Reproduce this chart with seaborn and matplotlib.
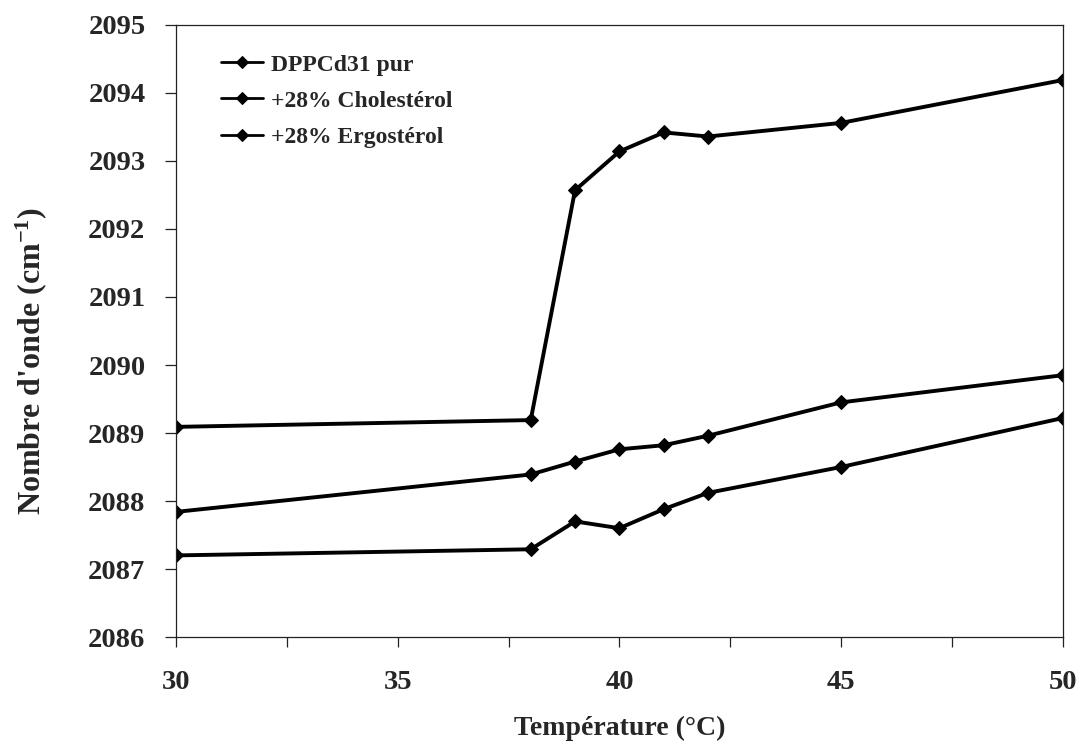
import matplotlib
matplotlib.use("Agg")
import matplotlib.pyplot as plt
from matplotlib.ticker import MultipleLocator
import seaborn as sns
import pandas as pd

# Temperatures (°C) and CD2 stretching wavenumbers (cm-1)
temperature = [30, 38, 39, 40, 41, 42, 45, 50]
dppc_pur = [2089.09, 2089.19, 2092.57, 2093.14, 2093.42, 2093.36, 2093.56, 2094.19]
cholesterol = [2087.84, 2088.39, 2088.58, 2088.76, 2088.82, 2088.96, 2089.45, 2089.85]
ergosterol = [2087.20, 2087.29, 2087.70, 2087.60, 2087.88, 2088.12, 2088.50, 2089.22]
series_names = ["DPPCd31 pur", "+28% Cholestérol", "+28% Ergostérol"]

x_ticks = [30, 35, 40, 45, 50]
y_ticks = [2086, 2087, 2088, 2089, 2090, 2091, 2092, 2093, 2094, 2095]

frames = []
for name, values in zip(series_names, [dppc_pur, cholesterol, ergosterol]):
    frames.append(pd.DataFrame({"Température": temperature,
                                "Nombre d'onde": values,
                                "Série": name}))
df = pd.concat(frames, ignore_index=True)

sns.set_theme(style="white")
plt.rcParams["font.family"] = ["Liberation Serif", "DejaVu Serif"]
plt.rcParams["font.weight"] = "bold"
plt.rcParams["mathtext.fontset"] = "custom"
plt.rcParams["mathtext.rm"] = "Liberation Serif:bold"
plt.rcParams["mathtext.default"] = "rm"

fig = plt.figure(figsize=(10.8, 7.46), dpi=100)
ax = fig.add_axes([0.163, 0.1461, 0.821, 0.8204])

sns.lineplot(data=df, x="Température", y="Nombre d'onde", hue="Série",
             hue_order=series_names, palette=["black"] * 3,
             marker="D", markersize=7.5, markeredgecolor="black",
             markerfacecolor="black", linewidth=2.8, ax=ax)

ax.set_xlim(30, 50)
ax.set_ylim(2086, 2095)
ax.set_xticks(x_ticks)
ax.xaxis.set_minor_locator(MultipleLocator(2.5))
ax.set_yticks(y_ticks)

for side in ["left", "bottom", "top", "right"]:
    ax.spines[side].set_visible(True)
    ax.spines[side].set_color("#222222")
    ax.spines[side].set_linewidth(0.9)

ax.tick_params(axis="both", which="both", direction="out", color="#222222",
               width=0.9, bottom=True, left=True, top=False, right=False)
ax.tick_params(axis="x", which="major", length=7, pad=17, labelsize=20.5)
ax.tick_params(axis="x", which="minor", length=7)
ax.tick_params(axis="y", which="major", length=8, pad=14, labelsize=20.5)
for lbl in ax.get_xticklabels() + ax.get_yticklabels():
    lbl.set_fontweight("bold")

ax.set_xlabel("Température (°C)", fontsize=20, fontweight="bold", labelpad=15)
ax.set_ylabel("Nombre d'onde (cm$^{-1}$)", fontsize=23, fontweight="bold")
ax.yaxis.set_label_coords(-0.143, 0.451)

leg = ax.legend(loc="upper left", bbox_to_anchor=(0.04, 0.968), frameon=False,
                fontsize=17, handlelength=1.8, handletextpad=0.3,
                labelspacing=0.62, borderaxespad=0, numpoints=1)
for text in leg.get_texts():
    text.set_fontweight("bold")
for line in leg.get_lines():
    line.set_linewidth(2.0)
    line.set_markersize(6)

fig.savefig("out.png", dpi=100)
